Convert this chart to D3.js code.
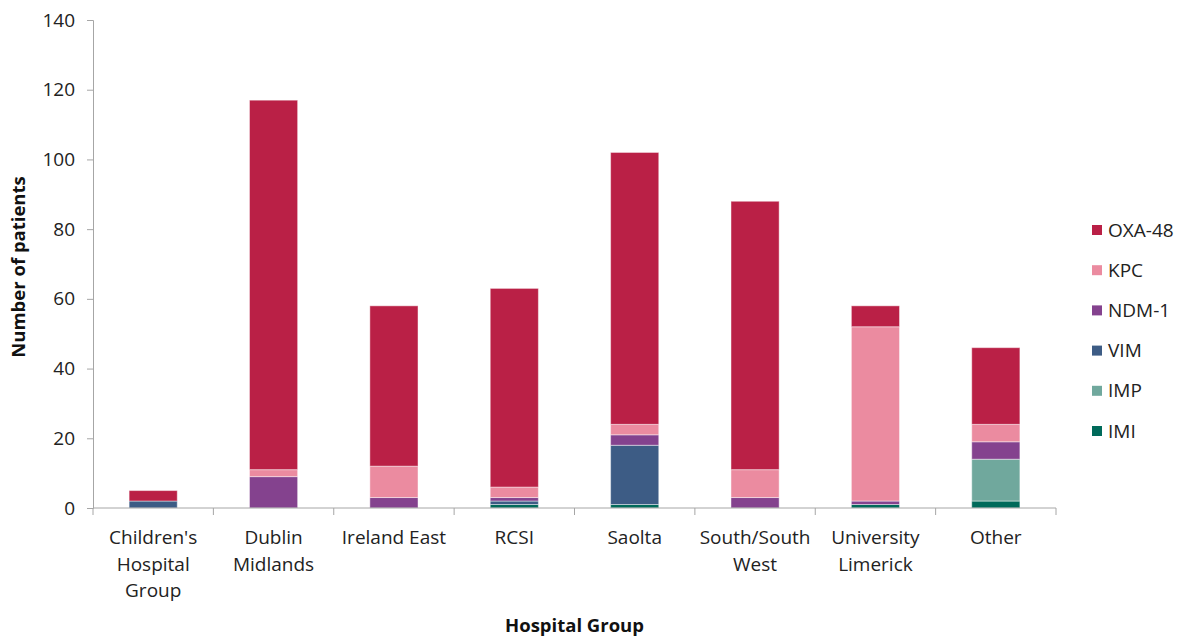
<!DOCTYPE html>
<html><head><meta charset="utf-8">
<script src="https://cdn.jsdelivr.net/npm/d3@7"></script>
<style>body{margin:0;background:#fff;} svg{display:block;font-family:"Open Sans",sans-serif;}</style>
</head><body>
<svg id="c" width="1182" height="637"></svg>
<script>
const categories = ["Children's Hospital Group","Dublin Midlands","Ireland East","RCSI","Saolta","South/South West","University Limerick","Other"];
const categoryLines = [["Children's","Hospital","Group"],["Dublin","Midlands"],["Ireland East"],["RCSI"],["Saolta"],["South/South","West"],["University","Limerick"],["Other"]];
const seriesNames = ["IMI","IMP","VIM","NDM-1","KPC","OXA-48"];
const IMI   = [0, 0, 0, 1, 1, 0, 1, 2];
const IMP   = [0, 0, 0, 0, 0, 0, 0, 12];
const VIM   = [2, 0, 0, 1, 17, 0, 0, 0];
const NDM1  = [0, 9, 3, 1, 3, 3, 1, 5];
const KPC   = [0, 2, 9, 3, 3, 8, 50, 5];
const OXA48 = [3, 106, 46, 57, 78, 77, 6, 22];
const yTicks = [0,20,40,60,80,100,120,140];
const colors = {"OXA-48":"#BA2046","KPC":"#EB8BA0","NDM-1":"#84428E","VIM":"#3D5C85","IMP":"#70A89D","IMI":"#006A5A"};
const legendOrder = ["OXA-48","KPC","NDM-1","VIM","IMP","IMI"];

const seriesVals = {"IMI":IMI,"IMP":IMP,"VIM":VIM,"NDM-1":NDM1,"KPC":KPC,"OXA-48":OXA48};
const table = categories.map((c,i)=>{const o={cat:c}; seriesNames.forEach(s=>o[s]=seriesVals[s][i]); return o;});

const svg = d3.select("#c");
const m = {left:93, right:1056, top:20, bottom:508};
const x = d3.scaleBand().domain(categories).range([m.left, m.right]).paddingInner(0.6).paddingOuter(0.3);
const xb = d3.scaleBand().domain(categories).range([m.left, m.right]);
const y = d3.scaleLinear().domain([0,140]).range([m.bottom, m.top]);

const stack = d3.stack().keys(seriesNames)(table);
svg.append("g").selectAll("g").data(stack).join("g")
  .attr("fill", d=>colors[d.key])
  .selectAll("rect").data(d=>d.filter(p=>p[1]-p[0]>0)).join("rect")
  .attr("x", d=>x(d.data.cat)).attr("width", x.bandwidth())
  .attr("y", d=>y(d[1])).attr("height", d=>y(d[0])-y(d[1]))
  .attr("stroke","#ffffff").attr("stroke-opacity",0.45).attr("stroke-width",1);

const axisColor = "#A6A6A6";
const fs = "19px";
// Y axis
const ya = svg.append("g").attr("transform",`translate(${m.left},0)`)
  .call(d3.axisLeft(y).tickValues(yTicks).tickSize(6).tickPadding(12));
ya.select(".domain").attr("stroke",axisColor);
ya.selectAll(".tick line").attr("stroke",axisColor);
ya.selectAll(".tick text").attr("fill","#222").style("font-size",fs).style("font-family","'Open Sans', sans-serif");

// X axis
const xg = svg.append("g").attr("transform",`translate(0,${m.bottom})`);
xg.append("line").attr("x1",m.left).attr("x2",m.right).attr("y1",0).attr("y2",0).attr("stroke",axisColor);
const bounds = categories.map(c=>xb(c)).concat([m.right]);
xg.selectAll("line.t").data(bounds).join("line").attr("class","t")
  .attr("x1",d=>d).attr("x2",d=>d).attr("y1",0).attr("y2",7).attr("stroke",axisColor);
const lab = xg.selectAll("text.cl").data(categories).join("text").attr("class","cl")
  .attr("text-anchor","middle").attr("fill","#222").style("font-size",fs)
  .attr("transform",d=>`translate(${xb(d)+xb.bandwidth()/2},0)`);
lab.each(function(d,i){
  d3.select(this).selectAll("tspan").data(categoryLines[i]).join("tspan")
    .attr("x",0).attr("y",(t,j)=>36+j*26.5).text(t=>t);
});

// Axis titles
svg.append("text").attr("x",(m.left+m.right)/2).attr("y",632).attr("text-anchor","middle")
  .style("font-size","18.5px").style("font-weight","bold").attr("fill","#111").text("Hospital Group");
svg.append("text").attr("transform","translate(25,267) rotate(-90)").attr("text-anchor","middle")
  .style("font-size","18.5px").style("font-weight","bold").attr("fill","#111").text("Number of patients");

// Legend
const lg = svg.append("g").selectAll("g").data(legendOrder).join("g")
  .attr("transform",(d,i)=>`translate(1092,${230+i*40.2})`);
lg.append("rect").attr("x",0).attr("y",-5).attr("width",10).attr("height",10).attr("fill",d=>colors[d]);
lg.append("text").attr("x",16).attr("y",0).attr("dy","0.35em").style("font-size",fs).attr("fill","#222").text(d=>d);
</script>
</body></html>
